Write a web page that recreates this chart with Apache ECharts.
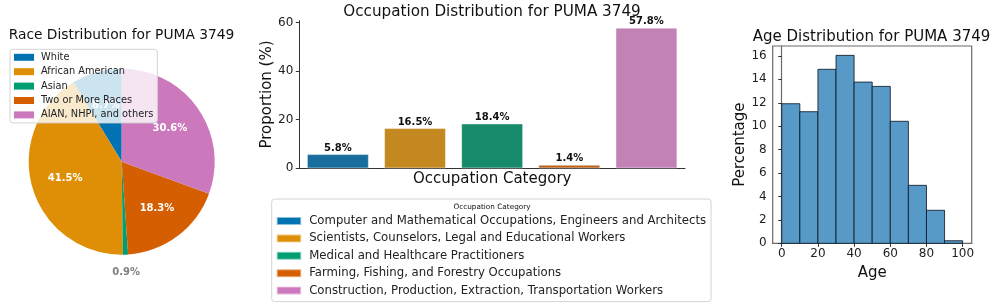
<!DOCTYPE html>
<html>
<head>
<meta charset="utf-8">
<script src="https://cdn.jsdelivr.net/npm/echarts@6/dist/echarts.min.js"></script>
<style>
html,body{margin:0;padding:0;background:#fff;}
#c{width:997px;height:308px;}
</style>
</head>
<body>
<div id="c"></div>
<script>
// ---------- data ----------
const raceLabels = ['White', 'African American', 'Asian', 'Two or More Races', 'AIAN, NHPI, and others'];
const racePct = [8.7, 41.5, 0.9, 18.3, 30.6];

const occLabels = [
  'Computer and Mathematical Occupations, Engineers and Architects',
  'Scientists, Counselors, Legal and Educational Workers',
  'Medical and Healthcare Practitioners',
  'Farming, Fishing, and Forestry Occupations',
  'Construction, Production, Extraction, Transportation Workers'
];
const occPct = [5.8, 16.5, 18.4, 1.4, 57.8];
const occTicks = [0, 20, 40, 60];

const ageEdges = [0, 10, 20, 30, 40, 50, 60, 70, 80, 90, 100];
const agePct = [11.92, 11.24, 14.86, 16.05, 13.77, 13.4, 10.42, 4.95, 2.82, 0.22];
const ageXTicks = [0, 20, 40, 60, 80, 100];
const ageYTicks = [0, 2, 4, 6, 8, 10, 12, 14, 16];

// ---------- styles ----------
const FONT = 'DejaVu Sans';
const palette = ['#0173b2', '#de8f05', '#029e73', '#d55e00', '#cc78bc'];
const barPalette = ['#176d9c', '#c38820', '#168a6a', '#ba611b', '#c282b6'];
const smallPieIdx = 2;
const PIE_R = 93;
const PIE_C = [121.7, 161.7];

const chart = echarts.init(document.getElementById('c'), null, {renderer: 'canvas'});

const pieData = raceLabels.map((n, i) => ({name: n, value: racePct[i], itemStyle: {color: palette[i]}}));
const pieLabelData = raceLabels.map((n, i) => ({
  name: n, value: racePct[i],
  label: {show: i !== smallPieIdx}
}));
const pieSmallLabelData = raceLabels.map((n, i) => ({
  name: n, value: racePct[i],
  label: {show: i === smallPieIdx}
}));

const barSeries = occLabels.map((n, i) => ({
  type: 'bar',
  name: n,
  stack: 'occ',
  xAxisIndex: 0, yAxisIndex: 0,
  barWidth: '80%',
  data: occPct.map((v, j) => (j === i ? v : '-')),
  itemStyle: {color: barPalette[i], borderColor: 'rgba(255,255,255,0.55)', borderWidth: 0.8},
  label: {
    show: true, position: 'top', distance: 1,
    formatter: p => p.value.toFixed(1) + '%',
    fontFamily: FONT, fontWeight: 'bold', fontSize: 10, color: '#111'
  },
  emphasis: {disabled: true},
  silent: true
}));

const histData = agePct.map((v, i) => [ageEdges[i], ageEdges[i + 1], v]);

const option = {
  animation: false,
  textStyle: {fontFamily: FONT},
  graphic: [
    {type: 'text', x: 121.5, y: 35, style: {text: 'Race Distribution for PUMA 3749', fontFamily: FONT, fontSize: 13.8, fill: '#111', textAlign: 'center', textVerticalAlign: 'middle'}},
    {type: 'text', x: 492, y: 12, style: {text: 'Occupation Distribution for PUMA 3749', fontFamily: FONT, fontSize: 15.2, fill: '#111', textAlign: 'center', textVerticalAlign: 'middle'}},
    {type: 'text', x: 871.5, y: 36.7, style: {text: 'Age Distribution for PUMA 3749', fontFamily: FONT, fontSize: 15, fill: '#111', textAlign: 'center', textVerticalAlign: 'middle'}},
    {type: 'text', x: 492, y: 207.3, z: 100, style: {text: 'Occupation Category', fontFamily: FONT, fontSize: 7.3, fill: '#111', textAlign: 'center', textVerticalAlign: 'middle'}}
  ],
  legend: [
    {
      orient: 'vertical', left: 10, top: 49.3,
      padding: [2, 4, 2, 4], itemGap: 2.4, itemWidth: 20, itemHeight: 7,
      icon: 'rect',
      backgroundColor: 'rgba(255,255,255,0.8)', borderColor: '#d4d4d4', borderWidth: 1, borderRadius: 3,
      textStyle: {fontFamily: FONT, fontSize: 9.8, lineHeight: 12, color: '#222', padding: [0, 0, 0, 2]},
      data: raceLabels.map((n, i) => ({name: n, itemStyle: {color: palette[i]}})),
      selectedMode: false, z: 10
    },
    {
      orient: 'vertical', left: 271.7, top: 199,
      padding: [15, 5, 4, 4], itemGap: 3.4, itemWidth: 24.5, itemHeight: 8,
      icon: 'rect',
      backgroundColor: 'rgba(255,255,255,0.8)', borderColor: '#d4d4d4', borderWidth: 1, borderRadius: 3,
      textStyle: {fontFamily: FONT, fontSize: 11.7, lineHeight: 14, color: '#222', padding: [0, 0, 0, 3]},
      data: occLabels.map((n, i) => ({name: n, itemStyle: {color: palette[i]}})),
      selectedMode: false, z: 10
    }
  ],
  grid: [
    {left: 299.3, right: 312, top: 20.7, bottom: 139.7, containLabel: false},
    {left: 772.7, right: 25.3, top: 46, bottom: 64.7, containLabel: false, show: true, borderColor: '#6a6a6a', borderWidth: 1.2, backgroundColor: 'transparent'}
  ],
  xAxis: [
    {
      gridIndex: 0, type: 'category', data: occLabels, boundaryGap: true,
      axisLine: {show: true, lineStyle: {color: '#333', width: 1}},
      axisTick: {show: false}, axisLabel: {show: false}, splitLine: {show: false},
      name: 'Occupation Category', nameLocation: 'middle', nameGap: 3,
      nameTextStyle: {fontFamily: FONT, fontSize: 15, color: '#111', verticalAlign: 'top'}
    },
    {
      gridIndex: 1, type: 'value', min: -5, max: 105,
      axisLine: {show: true, lineStyle: {color: '#6a6a6a', width: 1.2}},
      axisTick: {show: true, length: 3.5, lineStyle: {color: '#333'}, customValues: ageXTicks},
      axisLabel: {show: true, margin: 5, fontFamily: FONT, fontSize: 12, color: '#222', customValues: ageXTicks},
      splitLine: {show: false},
      name: 'Age', nameLocation: 'middle', nameGap: 18,
      nameTextStyle: {fontFamily: FONT, fontSize: 15, color: '#111', verticalAlign: 'top'}
    }
  ],
  yAxis: [
    {
      gridIndex: 0, type: 'value', min: 0, max: 60.69,
      axisLine: {show: true, lineStyle: {color: '#333', width: 1}},
      axisTick: {show: true, length: 3.5, lineStyle: {color: '#333'}, customValues: occTicks},
      axisLabel: {show: true, margin: 6, fontFamily: FONT, fontSize: 12, color: '#222', customValues: occTicks},
      splitLine: {show: false},
      name: 'Proportion (%)', nameLocation: 'middle', nameGap: 22, nameRotate: 90,
      nameTextStyle: {fontFamily: FONT, fontSize: 15, color: '#111'}
    },
    {
      gridIndex: 1, type: 'value', min: 0, max: 16.85,
      axisLine: {show: true, lineStyle: {color: '#6a6a6a', width: 1.2}},
      axisTick: {show: true, length: 3.5, lineStyle: {color: '#333'}, customValues: ageYTicks},
      axisLabel: {show: true, margin: 6, fontFamily: FONT, fontSize: 12, color: '#222', customValues: ageYTicks},
      splitLine: {show: false},
      name: 'Percentage', nameLocation: 'middle', nameGap: 24, nameRotate: 90,
      nameTextStyle: {fontFamily: FONT, fontSize: 15, color: '#111'}
    }
  ],
  series: [
    {
      type: 'pie', name: 'race', center: PIE_C, radius: [0, PIE_R],
      startAngle: 90, clockwise: false, z: 2,
      data: pieData,
      label: {show: false}, labelLine: {show: false},
      emphasis: {disabled: true}, silent: true
    },
    {
      type: 'pie', name: 'raceLabels', center: PIE_C, radius: [0.2 * PIE_R, PIE_R],
      startAngle: 90, clockwise: false, z: 3,
      data: pieLabelData,
      itemStyle: {color: 'rgba(0,0,0,0)'},
      label: {position: 'inside', formatter: p => p.value.toFixed(1) + '%', fontFamily: FONT, fontWeight: 'bold', fontSize: 10, color: '#fff'},
      labelLine: {show: false},
      emphasis: {disabled: true}, silent: true
    },
    {
      type: 'pie', name: 'raceSmallLabel', center: PIE_C, radius: [1.1 * PIE_R, 1.22 * PIE_R],
      startAngle: 90, clockwise: false, z: 3,
      data: pieSmallLabelData,
      itemStyle: {color: 'rgba(0,0,0,0)'},
      label: {position: 'inside', formatter: p => p.value.toFixed(1) + '%', fontFamily: FONT, fontWeight: 'bold', fontSize: 10, color: '#808080'},
      labelLine: {show: false},
      emphasis: {disabled: true}, silent: true
    },
    ...barSeries,
    {
      type: 'custom', name: 'age', xAxisIndex: 1, yAxisIndex: 1,
      data: histData,
      encode: {x: [0, 1], y: 2},
      renderItem: (params, api) => {
        const p0 = api.coord([api.value(0), api.value(2)]);
        const p1 = api.coord([api.value(1), 0]);
        return {
          type: 'rect',
          shape: {x: p0[0], y: p0[1], width: p1[0] - p0[0], height: p1[1] - p0[1]},
          style: {fill: '#5799c7', stroke: 'rgba(10,20,30,0.8)', lineWidth: 1}
        };
      },
      silent: true
    }
  ]
};
chart.setOption(option);
</script>
</body>
</html>
